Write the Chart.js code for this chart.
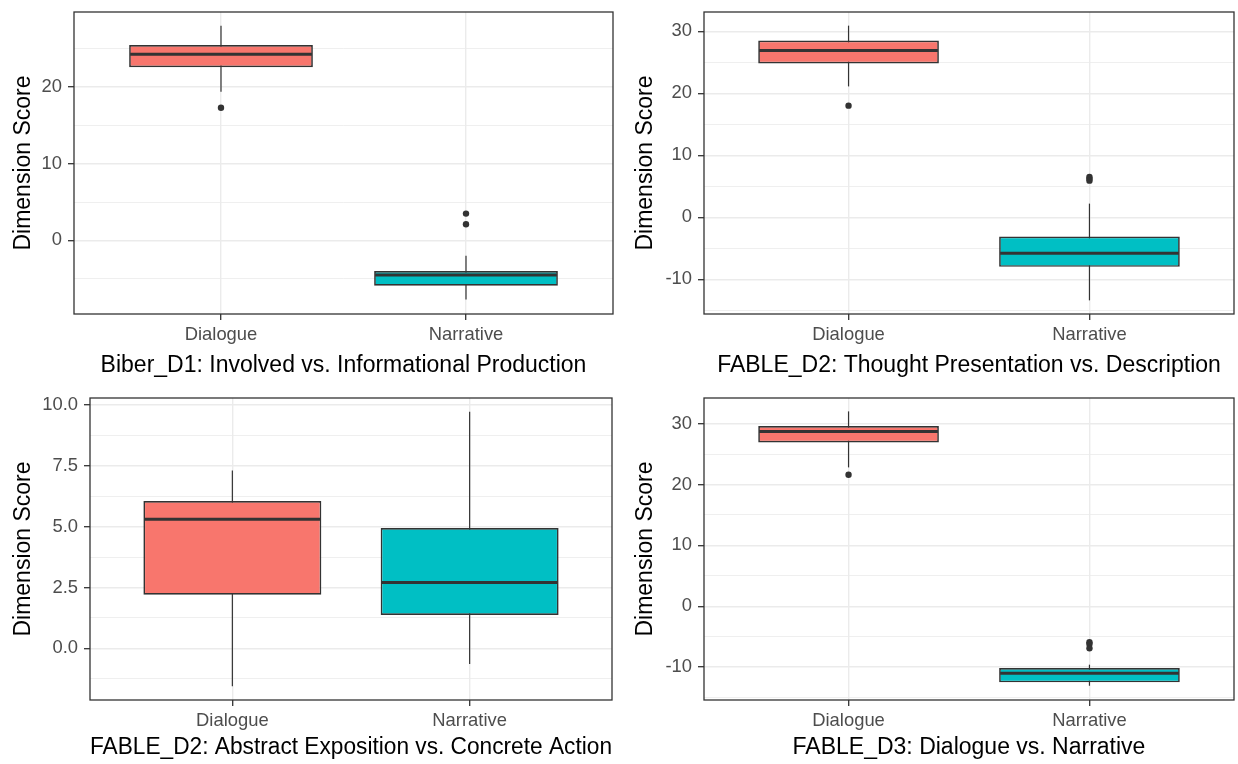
<!DOCTYPE html>
<html>
<head>
<meta charset="utf-8">
<script src="https://cdn.jsdelivr.net/npm/chart.js@4.4.1/dist/chart.umd.min.js"></script>
<style>
  html, body { margin: 0; padding: 0; background: #fff; }
  #wrap { position: relative; width: 1238px; height: 764px; }
  canvas { position: absolute; }
</style>
</head>
<body>
<div id="wrap">
  <canvas id="p1" width="619" height="382" style="left:0;top:0"></canvas>
  <canvas id="p2" width="619" height="382" style="left:619px;top:0"></canvas>
  <canvas id="p3" width="619" height="382" style="left:0;top:382px"></canvas>
  <canvas id="p4" width="619" height="382" style="left:619px;top:382px"></canvas>
</div>
<script>
const categories = ['Dialogue', 'Narrative'];
const fillColors = ['#F8766D', '#00BFC4'];

// Biber_D1
const biberLow = [19.4, -7.7];
const biberQ1 = [22.6, -5.9];
const biberMedian = [24.3, -4.5];
const biberQ3 = [25.5, -4.0];
const biberHigh = [28.0, -2.0];
const biberOutliers = [[17.3], [3.5, 2.1]];
const biberTicks = [0, 10, 20];
const biberMinor = [-5, 5, 15, 25];
const biberLabels = ['0', '10', '20'];

// FABLE_D2 thought presentation
const thoughtLow = [21.1, -13.4];
const thoughtQ1 = [24.8, -8.0];
const thoughtMedian = [26.9, -5.8];
const thoughtQ3 = [28.5, -3.1];
const thoughtHigh = [30.9, 2.2];
const thoughtOutliers = [[18.0], [6.5, 6.2, 5.9]];
const thoughtTicks = [-10, 0, 10, 20, 30];
const thoughtMinor = [-15, -5, 5, 15, 25];
const thoughtLabels = ['-10', '0', '10', '20', '30'];

// FABLE_D2 abstract exposition
const abstractLow = [-1.56, -0.64];
const abstractQ1 = [2.2, 1.37];
const abstractMedian = [5.3, 2.7];
const abstractQ3 = [6.05, 4.94];
const abstractHigh = [7.3, 9.72];
const abstractOutliers = [[], []];
const abstractTicks = [0, 2.5, 5, 7.5, 10];
const abstractMinor = [-1.25, 1.25, 3.75, 6.25, 8.75];
const abstractLabels = ['0.0', '2.5', '5.0', '7.5', '10.0'];

// FABLE_D3
const d3Low = [22.8, -13.06];
const d3Q1 = [26.9, -12.5];
const d3Median = [28.7, -10.99];
const d3Q3 = [29.6, -10.16];
const d3High = [32.0, -9.6];
const d3Outliers = [[21.6], [-5.9, -6.2, -6.9]];
const d3Ticks = [-10, 0, 10, 20, 30];
const d3Minor = [-15, -5, 5, 15, 25];
const d3Labels = ['-10', '0', '10', '20', '30'];

const FONT = "'Liberation Sans', Arial, sans-serif";
const DARK = '#333333';

const boxPlugin = {
  id: 'boxExtras',
  beforeDatasetsDraw(chart, args, opts) {
    const { ctx } = chart;
    const xs = chart.scales.x, ys = chart.scales.y;
    ctx.save();
    ctx.strokeStyle = DARK;
    ctx.lineWidth = 1.2;
    opts.low.forEach((lo, i) => {
      const x = xs.getPixelForValue(i + 1);
      ctx.beginPath();
      ctx.moveTo(x, ys.getPixelForValue(lo));
      ctx.lineTo(x, ys.getPixelForValue(opts.high[i]));
      ctx.stroke();
    });
    ctx.restore();
  },
  afterDatasetsDraw(chart, args, opts) {
    const { ctx } = chart;
    const ys = chart.scales.y;
    const meta = chart.getDatasetMeta(0);
    ctx.save();
    ctx.strokeStyle = DARK;
    ctx.lineWidth = 3;
    meta.data.forEach((bar, i) => {
      const y = ys.getPixelForValue(opts.median[i]);
      ctx.beginPath();
      ctx.moveTo(bar.x - bar.width / 2 + 1, y);
      ctx.lineTo(bar.x + bar.width / 2 - 1, y);
      ctx.stroke();
    });
    ctx.restore();
  },
  afterDraw(chart) {
    const { ctx, chartArea: a } = chart;
    ctx.save();
    ctx.strokeStyle = DARK;
    ctx.lineWidth = 1.3;
    ctx.strokeRect(a.left, a.top, a.right - a.left, a.bottom - a.top);
    ctx.restore();
  }
};

function boxPanel(id, p) {
  const canvas = document.getElementById(id);
  const W = canvas.width, H = canvas.height;
  const allTicks = p.ticks.concat(p.minor).sort((a, b) => a - b);
  const isMinor = v => p.minor.indexOf(v) >= 0;
  const points = [];
  p.outliers.forEach((vals, i) => vals.forEach(v => points.push({ x: i + 1, y: v })));

  new Chart(canvas, {
    type: 'bar',
    data: {
      datasets: [{
        type: 'bar',
        data: categories.map((c, i) => ({ x: i + 1, y: [p.q1[i], p.q3[i]] })),
        backgroundColor: fillColors,
        borderColor: DARK,
        borderWidth: 1.7,
        borderSkipped: false,
        categoryPercentage: 1,
        barPercentage: 0.75
      }, {
        type: 'scatter',
        data: points,
        pointRadius: 3.2,
        backgroundColor: DARK,
        borderWidth: 0
      }]
    },
    options: {
      responsive: false,
      animation: false,
      devicePixelRatio: 1,
      layout: { padding: { left: 0, top: p.area.top, right: W - p.area.right, bottom: 0 } },
      plugins: {
        legend: { display: false },
        tooltip: { enabled: false },
        boxExtras: { low: p.low, high: p.high, median: p.median }
      },
      scales: {
        x: {
          type: 'linear',
          min: 0.4,
          max: 2.6,
          offset: false,
          afterBuildTicks: s => { s.ticks = [{ value: 1 }, { value: 2 }]; },
          afterFit: s => { s.height = H - p.area.bottom; s.paddingLeft = 0; s.paddingRight = 0; },
          grid: { offset: false, color: '#EBEBEB', lineWidth: 1.4, tickLength: 6, tickColor: DARK, tickWidth: 1.3 },
          border: { display: false },
          ticks: {
            callback: v => categories[v - 1],
            color: '#4D4D4D',
            font: { family: FONT, size: 18.4 },
            padding: 3.5,
            maxRotation: 0
          },
          title: {
            display: true,
            text: p.title,
            color: '#000',
            font: { family: FONT, size: 23 },
            padding: { top: 0, bottom: 2.5 }
          }
        },
        y: {
          min: p.yMin,
          max: p.yMax,
          afterBuildTicks: s => { s.ticks = allTicks.map(v => ({ value: v })); },
          afterFit: s => { s.width = p.area.left; s.paddingTop = 0; s.paddingBottom = 0; },
          grid: {
            color: '#EBEBEB',
            lineWidth: c => isMinor(c.tick.value) ? 0.8 : 1.4,
            tickLength: 6,
            tickColor: c => isMinor(c.tick.value) ? 'rgba(0,0,0,0)' : DARK,
            tickWidth: 1.3
          },
          border: { display: false },
          ticks: {
            callback: v => { const k = p.ticks.indexOf(v); return k >= 0 ? p.labels[k] : ''; },
            color: '#4D4D4D',
            font: { family: FONT, size: 18.4 },
            padding: 6
          },
          title: {
            display: true,
            text: 'Dimension Score',
            color: '#000',
            font: { family: FONT, size: 23 },
            padding: { top: p.yTitlePad, bottom: 0 }
          }
        }
      }
    },
    plugins: [boxPlugin]
  });
}

boxPanel('p1', {
  title: 'Biber_D1: Involved vs. Informational Production',
  low: biberLow, q1: biberQ1, median: biberMedian, q3: biberQ3, high: biberHigh,
  outliers: biberOutliers, ticks: biberTicks, minor: biberMinor, labels: biberLabels,
  yMin: -9.6, yMax: 29.8,
  area: { left: 74, right: 613, top: 12, bottom: 314 }, yTitlePad: 9.7
});
boxPanel('p2', {
  title: 'FABLE_D2: Thought Presentation vs. Description',
  low: thoughtLow, q1: thoughtQ1, median: thoughtMedian, q3: thoughtQ3, high: thoughtHigh,
  outliers: thoughtOutliers, ticks: thoughtTicks, minor: thoughtMinor, labels: thoughtLabels,
  yMin: -15.6, yMax: 33.1,
  area: { left: 85, right: 617, top: 12, bottom: 314 }, yTitlePad: 13.1
});
boxPanel('p3', {
  title: 'FABLE_D2: Abstract Exposition vs. Concrete Action',
  low: abstractLow, q1: abstractQ1, median: abstractMedian, q3: abstractQ3, high: abstractHigh,
  outliers: abstractOutliers, ticks: abstractTicks, minor: abstractMinor, labels: abstractLabels,
  yMin: -2.12, yMax: 10.28,
  area: { left: 90, right: 612, top: 16, bottom: 318 }, yTitlePad: 9.5
});
boxPanel('p4', {
  title: 'FABLE_D3: Dialogue vs. Narrative',
  low: d3Low, q1: d3Q1, median: d3Median, q3: d3Q3, high: d3High,
  outliers: d3Outliers, ticks: d3Ticks, minor: d3Minor, labels: d3Labels,
  yMin: -15.4, yMax: 34.2,
  area: { left: 85, right: 617, top: 16, bottom: 318 }, yTitlePad: 13.1
});
</script>
</body>
</html>
